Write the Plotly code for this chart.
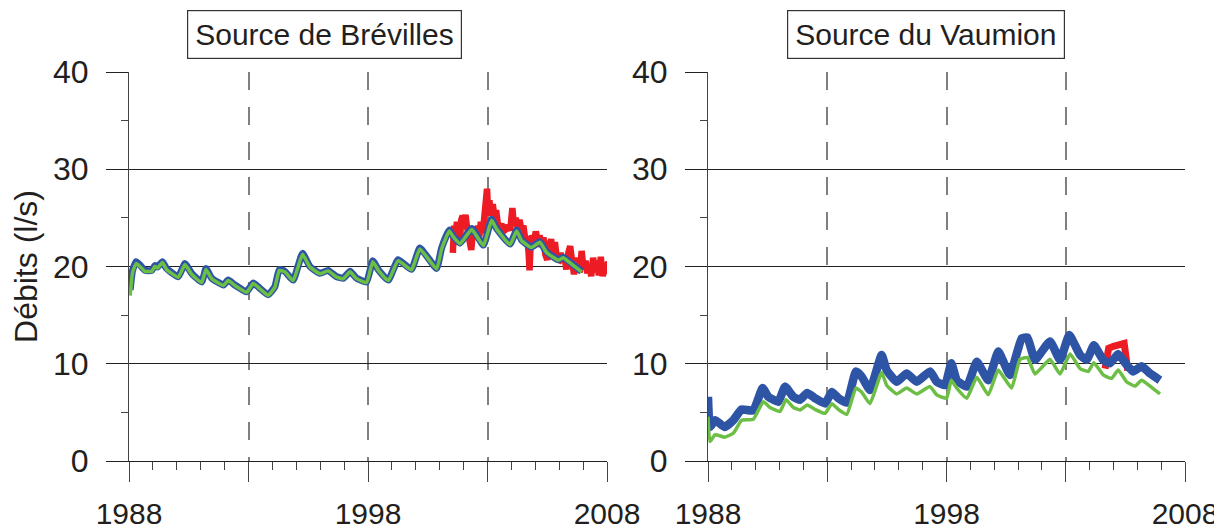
import plotly.graph_objects as go

# ---------------- data ----------------
# Source de Brévilles – simulated (blue) and (green), observed (red)
bre_sim_years = [1988.05, 1988.15, 1988.3, 1988.46, 1988.67, 1988.95, 1989.08, 1989.2, 1989.4, 1989.57,
                 1990.06, 1990.34, 1990.62, 1991.04, 1991.22, 1991.46, 1991.95, 1992.15, 1992.43, 1992.92,
                 1993.2, 1993.48, 1993.82, 1994.1, 1994.29, 1994.52, 1994.87, 1995.26, 1995.57, 1995.99,
                 1996.33, 1996.69, 1996.97, 1997.25, 1997.52, 1997.94, 1998.2, 1998.45, 1998.85, 1999.26,
                 1999.82, 2000.17, 2000.87, 2001.08, 2001.4, 2001.57, 2001.85, 2002.34, 2002.83, 2003.17,
                 2003.38, 2003.94, 2004.22, 2004.43, 2004.84, 2005.19, 2005.47, 2005.96, 2006.17, 2006.52,
                 2006.94]
bre_blue = [17.6, 19.6, 20.5, 20.15, 19.6, 19.6, 20.1, 19.95, 20.5, 19.8,
            18.95, 20.3, 19.3, 18.4, 19.8, 18.8, 18.1, 18.6, 18.1, 17.4,
            18.3, 17.75, 17.1, 17.9, 19.7, 19.5, 18.6, 21.35, 20.0, 19.3,
            19.6, 18.95, 18.8, 19.5, 18.8, 18.4, 20.6, 19.6, 18.6, 20.7,
            19.7, 21.9, 19.8, 21.9, 23.75, 23.1, 22.4, 23.9, 22.2, 24.85,
            23.9, 22.3, 23.75, 22.7, 22.0, 22.55, 21.5, 20.7, 20.95, 20.3,
            19.5]
bre_green = [17.0, 19.4, 20.3, 20.0, 19.5, 19.5, 20.0, 19.85, 20.4, 19.7,
             18.9, 20.2, 19.2, 18.35, 19.7, 18.75, 18.05, 18.55, 18.05, 17.35,
             18.25, 17.7, 17.05, 17.85, 19.6, 19.45, 18.55, 21.25, 19.95, 19.25,
             19.55, 18.9, 18.75, 19.45, 18.75, 18.35, 20.5, 19.55, 18.55, 20.6,
             19.65, 21.8, 19.75, 21.8, 23.65, 23.05, 22.35, 23.8, 22.15, 24.75,
             23.85, 22.25, 23.65, 22.65, 21.95, 22.5, 21.45, 20.65, 20.9, 20.25,
             19.45]
bre_obs_years = [2001.55, 2001.6, 2001.66, 2001.72, 2001.78, 2001.84, 2001.9, 2001.96, 2002.02, 2002.08,
                 2002.14, 2002.2, 2002.26, 2002.32, 2002.38, 2002.45, 2002.52, 2002.6, 2002.66, 2002.72,
                 2002.8, 2002.86, 2002.92, 2002.98, 2003.03, 2003.08, 2003.15, 2003.22, 2003.3, 2003.36,
                 2003.42, 2003.5, 2003.58, 2003.66, 2003.75, 2003.85, 2003.95, 2004.04, 2004.1, 2004.18,
                 2004.26, 2004.34, 2004.42, 2004.5, 2004.58, 2004.66, 2004.72, 2004.76, 2004.8, 2004.86,
                 2004.94, 2005.02, 2005.1, 2005.18, 2005.26, 2005.34, 2005.42, 2005.5, 2005.58, 2005.66,
                 2005.74, 2005.82, 2005.9, 2005.98, 2006.06, 2006.14, 2006.22, 2006.3, 2006.38, 2006.46,
                 2006.54, 2006.62, 2006.7, 2006.78, 2006.86, 2006.94, 2007.02, 2007.1, 2007.18, 2007.26,
                 2007.34, 2007.42, 2007.5, 2007.58, 2007.66, 2007.74, 2007.82, 2007.9, 2007.98, 2008.06,
                 2008.14, 2008.22, 2008.3]
bre_red = [21.4, 24.2, 23.0, 24.6, 23.4, 22.3, 24.8, 25.2, 24.6, 25.3,
           24.1, 23.0, 22.2, 21.7, 23.3, 24.0, 22.9, 24.2, 23.1, 24.6,
           23.4, 24.8, 25.8, 28.0, 25.4, 26.8, 25.2, 26.4, 25.0, 25.8,
           24.6, 23.9, 24.4, 23.6, 23.8, 24.2, 23.7, 26.0, 24.4, 25.0,
           24.0, 24.8, 23.8, 24.2, 22.8, 23.0, 21.4, 19.6, 22.0, 23.2,
           22.4, 23.6, 22.6, 23.2, 22.0, 23.0, 21.2, 20.7, 22.1, 22.8,
           21.3, 22.5, 20.8, 20.7, 21.4, 20.4, 21.0, 19.7, 21.4, 22.1,
           20.5, 19.2, 20.9, 20.1, 19.4, 21.6, 19.7, 20.6, 19.3, 20.2,
           19.0, 20.9, 19.4, 20.6, 19.1, 21.0, 19.0, 20.4, 19.3, 20.5,
           18.9, 20.0, 18.9]

# Source du Vaumion
vau_blue_years = [1988.0, 1988.08, 1988.3, 1988.7, 1989.06, 1989.41, 1989.9, 1990.29, 1990.53, 1990.95,
                  1991.23, 1991.58, 1991.86, 1992.16, 1992.49, 1992.91, 1993.19, 1993.47, 1993.82, 1994.2,
                  1994.44, 1994.79, 1995.28, 1995.49, 1995.91, 1996.33, 1996.75, 1997.31, 1997.59, 1997.94,
                  1998.2, 1998.43, 1998.85, 1999.27, 1999.75, 2000.17, 2000.66, 2001.15, 2001.39, 2001.71,
                  2002.34, 2002.76, 2003.15, 2003.6, 2003.88, 2004.18, 2004.57, 2004.86, 2005.2, 2005.55,
                  2005.83, 2006.18, 2006.53, 2006.95]
vau_blue = [6.6, 3.5, 4.2, 3.5, 4.2, 5.3, 5.2, 7.5, 6.6, 6.1,
            7.65, 6.6, 6.3, 7.0, 6.45, 5.9, 7.1, 6.45, 6.0, 9.2,
            8.7, 7.3, 10.9, 9.35, 8.15, 9.0, 8.15, 9.2, 8.15, 7.8,
            10.05, 8.3, 7.65, 10.2, 8.3, 11.25, 8.85, 12.6, 12.7, 10.4,
            12.3, 10.4, 12.95, 10.9, 10.4, 11.9, 10.4, 10.05, 11.0, 9.9,
            9.2, 9.75, 9.0, 8.3]
vau_green_years = [1988.0, 1988.08, 1988.3, 1988.7, 1989.06, 1989.41, 1989.9, 1990.32, 1990.6, 1991.02,
                   1991.27, 1991.58, 1991.86, 1992.16, 1992.49, 1992.91, 1993.19, 1993.47, 1993.82, 1994.2,
                   1994.44, 1994.79, 1995.28, 1995.49, 1995.91, 1996.33, 1996.75, 1997.31, 1997.59, 1998.0,
                   1998.2, 1998.43, 1998.85, 1999.27, 1999.75, 2000.17, 2000.73, 2001.08, 2001.39, 2001.71,
                   2002.34, 2002.76, 2003.18, 2003.6, 2003.94, 2004.18, 2004.57, 2004.92, 2005.2, 2005.55,
                   2005.9, 2006.18, 2006.53, 2006.95]
vau_green = [4.55, 2.0, 2.7, 2.45, 2.85, 4.2, 4.3, 6.1, 5.5, 5.1,
             6.3, 5.5, 5.25, 5.75, 5.3, 4.9, 5.9, 5.3, 4.8, 7.5,
             7.1, 5.9, 9.1, 7.8, 6.9, 7.5, 6.9, 7.65, 6.8, 6.45,
             8.3, 7.5, 6.45, 8.6, 6.8, 9.35, 7.5, 10.45, 10.65, 8.95,
             10.45, 8.95, 11.0, 9.5, 9.2, 10.1, 8.85, 8.5, 9.35, 8.15,
             7.7, 8.3, 7.7, 6.9]
vau_obs_years = [2004.65, 2004.8, 2005.0, 2005.2, 2005.45, 2005.6]
vau_red = [9.5, 11.6, 11.8, 11.9, 12.1, 9.3]

titles = ["Source de Brévilles", "Source du Vaumion"]
y_title = "Débits (l/s)"
x_tick_vals = [1988, 1993, 1998, 2003, 2008]
x_tick_text = ["1988", "", "1998", "", "2008"]
y_tick_vals = [0, 10, 20, 30, 40]

RED = "#ED1C24"
BLUE = "#2E55A5"
GREEN = "#6DBE45"
TXT = "#231F20"
FONT = "Liberation Sans, Arial, sans-serif"

fig = go.Figure()

def add(x, y, color, width, xa, ya, smooth=True):
    line = dict(color=color, width=width)
    if smooth:
        line.update(shape="spline", smoothing=0.4)
    fig.add_trace(go.Scatter(x=x, y=y, mode="lines", line=line,
                             xaxis=xa, yaxis=ya, showlegend=False, hoverinfo="skip"))

add(bre_obs_years, bre_red, RED, 6.5, "x", "y", smooth=False)
add(bre_sim_years, bre_blue, BLUE, 7, "x", "y")
add(bre_sim_years, bre_green, GREEN, 3.5, "x", "y")
add(vau_obs_years, vau_red, RED, 7, "x2", "y2", smooth=False)
add(vau_blue_years, vau_blue, BLUE, 8.5, "x2", "y2")
add(vau_green_years, vau_green, GREEN, 3.5, "x2", "y2")

# page body has an 8px margin: positions below are reference pixels shifted by that offset
OFF = 8
W, H = 1222 - OFF, 532 - OFF
def xdom(a, b):
    return [(a - OFF) / W, (b - OFF) / W]
ydom = [(H - (461 - OFF)) / H, (H - (72 - OFF)) / H]

xcommon = dict(range=[1988, 2008], tickmode="array", tickvals=x_tick_vals, ticktext=x_tick_text,
               ticks="outside", ticklen=20, tickwidth=1.2, tickcolor="#444",
               showline=True, linecolor="#222", linewidth=1.2,
               showgrid=True, gridcolor="#808080", gridwidth=1.8, griddash="18px,17px",
               zeroline=False, automargin=False, ticklabelstandoff=6,
               tickfont=dict(family=FONT, size=30, color=TXT),
               minor=dict(dtick=1, tick0=1988, ticks="outside", ticklen=8, tickwidth=1, tickcolor="#444", showgrid=False))
ycommon = dict(range=[0, 40], tickmode="array", tickvals=y_tick_vals,
               ticks="outside", ticklen=22, tickwidth=1.2, tickcolor="#222",
               showline=True, linecolor="#444", linewidth=1.2,
               showgrid=True, gridcolor="#222", gridwidth=1.1,
               zeroline=False, automargin=False, ticklabelstandoff=11,
               tickfont=dict(family=FONT, size=32, color=TXT),
               minor=dict(tickmode="array", tickvals=[5, 15, 25, 35], ticks="outside", ticklen=7, tickwidth=1,
                          tickcolor="#444", showgrid=False))

fig.update_layout(
    width=W, height=H, margin=dict(l=0, r=0, t=0, b=0),
    paper_bgcolor="white", plot_bgcolor="white",
    xaxis=dict(domain=xdom(129, 607), anchor="y", **xcommon),
    yaxis=dict(domain=ydom, anchor="x",
               title=dict(text=y_title, font=dict(family=FONT, size=32, color=TXT), standoff=6),
               **ycommon),
    xaxis2=dict(domain=xdom(708, 1185), anchor="y2", **xcommon),
    yaxis2=dict(domain=ydom, anchor="x2", **ycommon),
)

for cx, t in zip([324, 926], titles):
    fig.add_annotation(x=(cx - OFF) / W, y=(H - (34 - OFF)) / H, xref="paper", yref="paper", text=t,
                       showarrow=False, font=dict(family=FONT, size=30, color=TXT),
                       bordercolor="#333", borderwidth=1.2, borderpad=7, bgcolor="white",
                       xanchor="center", yanchor="middle")

fig.write_html("out.html")
